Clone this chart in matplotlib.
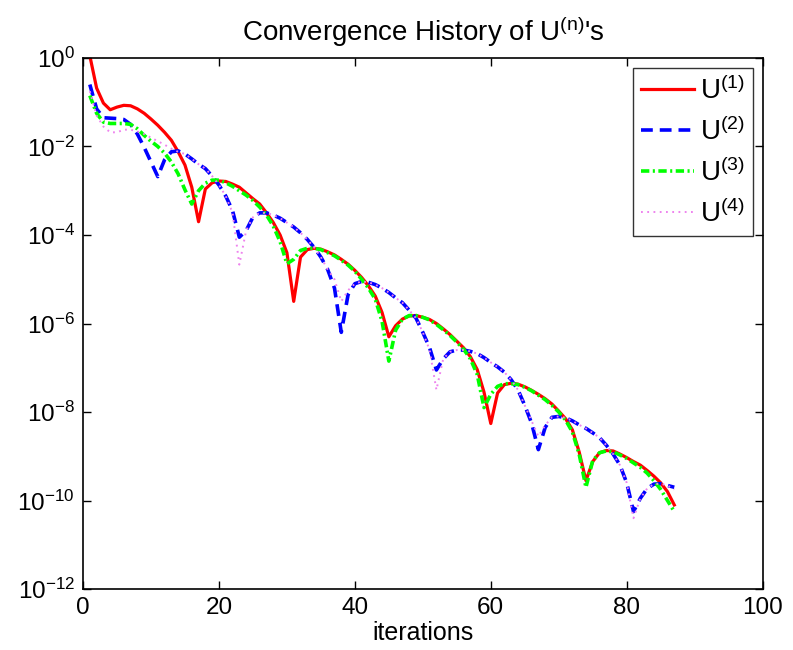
import numpy as np
import matplotlib
matplotlib.use('Agg')
import matplotlib.pyplot as plt

# log10 of the residual per iteration
iters = list(range(1, 88))

u1_log = [0.05, -0.68, -1.02, -1.17, -1.11, -1.07, -1.08, -1.15, -1.25, -1.38,
          -1.52, -1.68, -1.86, -2.12, -2.42, -2.92, -3.70, -2.96, -2.82, -2.78,
          -2.79, -2.85, -2.92, -3.05, -3.18, -3.30, -3.50, -3.72, -4.00, -4.40,
          -5.50, -4.50, -4.33, -4.30, -4.32, -4.38, -4.45, -4.55, -4.66, -4.80,
          -4.96, -5.15, -5.38, -5.75, -6.30, -6.05, -5.90, -5.83, -5.82, -5.86,
          -5.91, -6.00, -6.12, -6.25, -6.40, -6.55, -6.75, -7.04, -7.55, -8.26,
          -7.57, -7.38, -7.35, -7.37, -7.43, -7.51, -7.60, -7.70, -7.82, -7.98,
          -8.15, -8.40, -8.90, -9.55, -9.12, -8.92, -8.87, -8.88, -8.95, -9.03,
          -9.12, -9.20, -9.32, -9.45, -9.60, -9.80, -10.10]

u2_log = [-0.60, -1.15, -1.35, -1.36, -1.37, -1.39, -1.50, -1.72, -2.02, -2.35,
          -2.68, -2.30, -2.12, -2.10, -2.17, -2.28, -2.40, -2.50, -2.67, -2.87,
          -3.12, -3.45, -4.05, -3.90, -3.60, -3.50, -3.50, -3.55, -3.62, -3.72,
          -3.82, -3.95, -4.10, -4.28, -4.50, -4.78, -5.20, -6.20, -5.35, -5.10,
          -5.05, -5.07, -5.12, -5.20, -5.30, -5.42, -5.53, -5.70, -5.88, -6.20,
          -6.55, -7.05, -6.80, -6.64, -6.60, -6.60, -6.63, -6.68, -6.77, -6.88,
          -6.98, -7.10, -7.27, -7.50, -7.85, -8.25, -8.85, -8.35, -8.12, -8.10,
          -8.13, -8.20, -8.29, -8.37, -8.47, -8.58, -8.75, -8.95, -9.20, -9.60,
          -10.25, -9.95, -9.73, -9.63, -9.62, -9.66, -9.70]

u3_log = [-0.85, -1.25, -1.45, -1.48, -1.48, -1.48, -1.50, -1.60, -1.75, -1.88,
          -2.00, -2.15, -2.35, -2.62, -2.98, -3.30, -3.00, -2.83, -2.76, -2.76,
          -2.82, -2.90, -3.00, -3.10, -3.22, -3.37, -3.55, -3.80, -4.15, -4.65,
          -4.55, -4.35, -4.30, -4.30, -4.33, -4.40, -4.47, -4.57, -4.68, -4.82,
          -5.00, -5.20, -5.45, -5.95, -6.85, -6.15, -5.90, -5.82, -5.82, -5.86,
          -5.92, -6.02, -6.14, -6.27, -6.42, -6.58, -6.80, -7.15, -7.90, -7.60,
          -7.42, -7.36, -7.36, -7.38, -7.44, -7.52, -7.62, -7.72, -7.85, -8.00,
          -8.18, -8.45, -8.95, -9.70, -9.10, -8.92, -8.88, -8.90, -8.97, -9.05,
          -9.15, -9.25, -9.38, -9.55, -9.75, -10.00, -10.25]

u4_log = [-0.75, -1.30, -1.55, -1.68, -1.68, -1.62, -1.62, -1.66, -1.72, -1.80,
          -1.88, -1.96, -2.05, -2.12, -2.17, -2.28, -2.40, -2.50, -2.67, -2.87,
          -3.12, -3.50, -4.67, -3.90, -3.60, -3.50, -3.50, -3.55, -3.62, -3.72,
          -3.82, -3.95, -4.10, -4.28, -4.50, -4.78, -5.00, -5.50, -5.25, -5.10,
          -5.05, -5.07, -5.12, -5.20, -5.30, -5.42, -5.53, -5.70, -5.88, -6.20,
          -6.60, -7.50, -6.80, -6.64, -6.60, -6.60, -6.63, -6.68, -6.77, -6.88,
          -6.98, -7.10, -7.27, -7.50, -7.85, -8.20, -8.55, -8.30, -8.12, -8.10,
          -8.13, -8.20, -8.29, -8.37, -8.47, -8.58, -8.75, -8.95, -9.20, -9.60,
          -10.40, -9.95, -9.73, -9.63, -9.62, -9.66, -9.75]

labels = ['U$^{(1)}$', 'U$^{(2)}$', 'U$^{(3)}$', 'U$^{(4)}$']
colors = ['#ff0000', '#0000ff', '#00ff00', '#ee82ee']

plt.rcParams['font.family'] = ['Liberation Sans', 'DejaVu Sans']
plt.rcParams['mathtext.fontset'] = 'custom'
plt.rcParams['mathtext.rm'] = 'Liberation Sans'
plt.rcParams['mathtext.it'] = 'Liberation Sans'
plt.rcParams['mathtext.default'] = 'regular'
plt.rcParams['lines.scale_dashes'] = False

fig = plt.figure(figsize=(7.93, 6.5), dpi=100)
ax = fig.add_axes([0.1047, 0.0938, 0.857, 0.817])

ax.semilogy(iters, np.power(10.0, u1_log), color=colors[0], linestyle='-', linewidth=2.3, label=labels[0])
ax.semilogy(iters, np.power(10.0, u2_log), color=colors[1], linestyle=(0, (8.5, 5)), linewidth=2.6, label=labels[1])
ax.semilogy(iters, np.power(10.0, u3_log), color=colors[2], linestyle=(0, (6, 2.5, 1.5, 2.5)), linewidth=2.6, label=labels[2])
ax.semilogy(iters, np.power(10.0, u4_log), color=colors[3], linestyle=(0, (1.3, 3.2)), linewidth=1.4, label=labels[3])

ax.set_xlim(0, 100)
ax.set_ylim(1e-12, 1e0)
ax.set_xticks([0, 20, 40, 60, 80, 100])
ax.set_yticks([1e0, 1e-2, 1e-4, 1e-6, 1e-8, 1e-10, 1e-12])
ax.minorticks_off()
ax.tick_params(direction='in', length=6, width=1, top=True, right=True, labelsize=17.5, pad=6)
for s in ax.spines.values():
    s.set_linewidth(1.2)

ax.set_title("Convergence History of U$^{(n)}$'s", fontsize=20, pad=12)
ax.set_xlabel('iterations', fontsize=18, labelpad=1)

leg = ax.legend(loc='upper right', fontsize=20, frameon=True, fancybox=False, handlelength=1.9,
                borderaxespad=0.35, labelspacing=0.45, handletextpad=0.2, borderpad=0.3)
leg.get_frame().set_edgecolor('black')
leg.get_frame().set_linewidth(1.0)

plt.savefig('out.png', dpi=100)
